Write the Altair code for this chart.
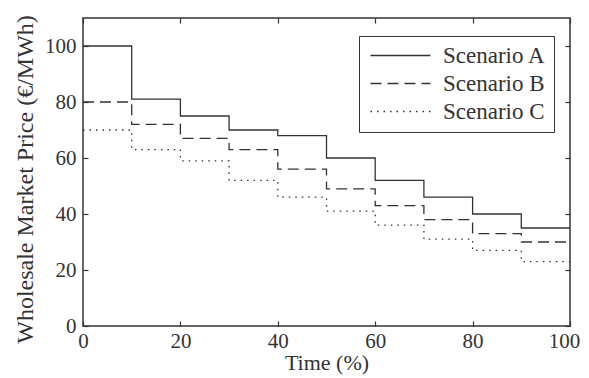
import altair as alt
import pandas as pd

time_pct = [0, 10, 20, 30, 40, 50, 60, 70, 80, 90, 100]
scenario_a = [100, 81, 75, 70, 68, 60, 52, 46, 40, 35]
scenario_b = [80, 72, 67, 63, 56, 49, 43, 38, 33, 30]
scenario_c = [70, 63, 59, 52, 46, 41, 36, 31, 27, 23]
series_names = ["Scenario A", "Scenario B", "Scenario C"]

rows = []
for name, vals in zip(series_names, [scenario_a, scenario_b, scenario_c]):
    ext = vals + [vals[-1]]
    for t, v in zip(time_pct, ext):
        rows.append({"Time": t, "Price": v, "Scenario": name})
df = pd.DataFrame(rows)

FONT = "Liberation Serif"
INK = "#333333"
TICKS = [0, 20, 40, 60, 80, 100]

xscale = alt.Scale(domain=[0, 100], nice=False)
yscale = alt.Scale(domain=[0, 110], nice=False)

lines = alt.Chart(df).mark_line(interpolate="step-after", strokeWidth=1.3, color=INK).encode(
    x=alt.X("Time:Q", scale=xscale,
            axis=alt.Axis(title="Time (%)", values=TICKS, tickSize=0, titleFontSize=22,
                          labelFlush=False, labelOverlap=False,
                          labelOffset={"expr": "datum.value == 100 ? -6 : 0"},
                          labelPadding=4, domain=False, grid=False, titlePadding=1)),
    y=alt.Y("Price:Q", scale=yscale,
            axis=alt.Axis(title="Wholesale Market Price (€/MWh)", values=TICKS, titleFontSize=24,
                          titleY=161, labelFlush=False, labelOverlap=False,
                          tickSize=0, labelPadding=7, domain=False, grid=False, titlePadding=7)),
    strokeDash=alt.StrokeDash("Scenario:N",
        scale=alt.Scale(domain=series_names, range=[[1, 0], [11, 6], [1.5, 5]]),
        legend=alt.Legend(title=None, orient="none", legendX=276, legendY=18,
                          symbolType="M-3,0H3", symbolSize=400, symbolStrokeWidth=1.3,
                          symbolStrokeColor=INK, labelFontSize=23, labelFont=FONT,
                          labelColor=INK, strokeColor=INK, padding=8, rowPadding=4,
                          symbolOffset=22, labelOffset=31, fillColor="white")),
)

# inward ticks on all four sides
tick_df = pd.DataFrame({"Time": TICKS, "Price": TICKS})
def tick_axis(orient):
    return alt.Axis(orient=orient, offset=-5, tickSize=5, labels=False, title=None,
                    domain=False, grid=False, values=TICKS, tickColor=INK, tickWidth=1.2)

ticks_bl = alt.Chart(tick_df).mark_point(opacity=0).encode(
    x=alt.X("Time:Q", scale=xscale, axis=tick_axis("bottom")),
    y=alt.Y("Price:Q", scale=yscale, axis=tick_axis("left")),
)
ticks_tr = alt.Chart(tick_df).mark_point(opacity=0).encode(
    x=alt.X("Time:Q", scale=xscale, axis=tick_axis("top")),
    y=alt.Y("Price:Q", scale=yscale, axis=tick_axis("right")),
)

chart = alt.layer(lines, ticks_bl, ticks_tr).resolve_axis(x="independent", y="independent").properties(
    width=487, height=308,
    padding={"left": 75, "top": 10, "right": 11, "bottom": 52},
    autosize=alt.AutoSizeParams(type="none"),
    background="white",
).configure_view(stroke=INK, strokeWidth=1.5).configure_axis(
    labelFont=FONT, titleFont=FONT, labelFontSize=21, titleFontSize=21,
    labelColor=INK, titleColor=INK, titleFontWeight="normal",
)

chart.save("out.html", embed_options={"renderer": "svg", "actions": False})
